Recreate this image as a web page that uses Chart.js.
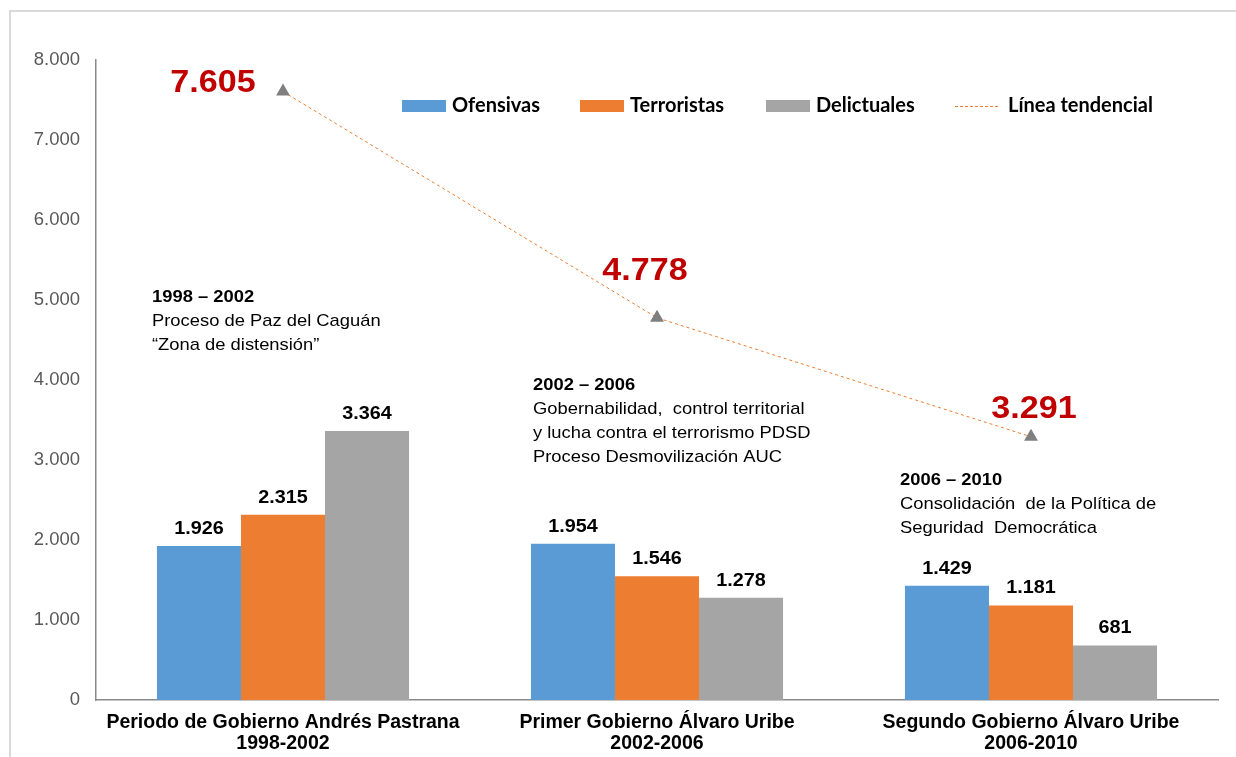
<!DOCTYPE html>
<html lang="es">
<head>
<meta charset="utf-8">
<title>Acciones por periodo de gobierno</title>
<script src="https://cdn.jsdelivr.net/npm/chart.js@4/dist/chart.umd.min.js"></script>
<style>
    html, body { margin: 0; padding: 0; background: #ffffff; }
    #grafico-wrap { position: relative; width: 1236px; height: 757px; }
</style>
</head>
<body>
<div id="grafico-wrap"><canvas id="grafico-acciones"></canvas></div>
<script>
// =====================================================
// DATOS
// =====================================================

const periodos = [
    ['Periodo de Gobierno Andrés Pastrana', '1998-2002'],
    ['Primer Gobierno Álvaro Uribe', '2002-2006'],
    ['Segundo Gobierno Álvaro Uribe', '2006-2010']
];
const ofensivas = [1926, 1954, 1429];
const terroristas = [2315, 1546, 1181];
const delictuales = [3364, 1278, 681];
const totales = [7605, 4778, 3291];
const ticksEje = [0, 1000, 2000, 3000, 4000, 5000, 6000, 7000, 8000];

const notasPeriodo = [
    ['1998 – 2002', 'Proceso de Paz del Caguán', '“Zona de distensión”'],
    ['2002 – 2006', 'Gobernabilidad,  control territorial', 'y lucha contra el terrorismo PDSD', 'Proceso Desmovilización AUC'],
    ['2006 – 2010', 'Consolidación  de la Política de', 'Seguridad  Democrática']
];

// =====================================================
// CONFIGURACIÓN
// =====================================================

const FUENTE = "'Liberation Sans', Arial, sans-serif";
const COLORES = {
    ofensivas: '#5B9BD5',
    terroristas: '#ED7D31',
    delictuales: '#A5A5A5',
    tendencia: '#ED7D31',
    marcador: '#7F7F7F',
    total: '#C00000',
    eje: '#898989',
    ticks: '#595959',
    marco: '#D9D9D9'
};

function formatoMiles(v) {
    return String(v).replace(/\B(?=(\d{3})+(?!\d))/g, '.');
}

// texto con un ligero estiramiento horizontal (como en la imagen original)
function textoEstirado(ctx, texto, x, y, escala) {
    ctx.save();
    ctx.translate(x, y);
    ctx.scale(escala, 1);
    ctx.fillText(texto, 0, 0);
    ctx.restore();
}

// =====================================================
// PLUGINS
// =====================================================

const marcoPlugin = {
    id: 'marco',
    beforeDraw(chart) {
        const ctx = chart.ctx;
        ctx.save();
        ctx.strokeStyle = COLORES.marco;
        ctx.lineWidth = 2;
        ctx.beginPath();
        ctx.moveTo(10, chart.height + 5);
        ctx.lineTo(10, 11);
        ctx.lineTo(chart.width + 5, 11);
        ctx.stroke();
        ctx.restore();
    }
};

const etiquetasPlugin = {
    id: 'etiquetas',
    afterDatasetsDraw(chart) {
        const ctx = chart.ctx;
        ctx.save();
        ctx.textAlign = 'center';
        ctx.textBaseline = 'middle';

        // valores sobre las barras
        ctx.fillStyle = '#000000';
        ctx.font = 'bold 18px ' + FUENTE;
        [0, 1, 2].forEach(i => {
            const meta = chart.getDatasetMeta(i);
            meta.data.forEach((barra, j) => {
                const valor = chart.data.datasets[i].data[j];
                textoEstirado(ctx, formatoMiles(valor), barra.x, barra.y - 17, 1.1);
            });
        });

        // totales de la línea tendencial
        const desplazamientos = [[-70, -8], [-12, -46], [3, -27]];
        ctx.fillStyle = COLORES.total;
        ctx.font = 'bold 31px ' + FUENTE;
        const metaLinea = chart.getDatasetMeta(3);
        metaLinea.data.forEach((punto, j) => {
            const d = desplazamientos[j];
            textoEstirado(ctx, formatoMiles(totales[j]), punto.x + d[0], punto.y + d[1], 1.1);
        });

        // notas de cada periodo
        const posicionesNotas = [[152, 297], [533, 385], [900, 480]];
        ctx.textAlign = 'left';
        ctx.fillStyle = '#000000';
        notasPeriodo.forEach((lineas, k) => {
            const p = posicionesNotas[k];
            lineas.forEach((linea, n) => {
                ctx.font = (n === 0 ? 'bold ' : '') + '17px ' + FUENTE;
                textoEstirado(ctx, linea, p[0], p[1] + n * 24, 1.08);
            });
        });
        ctx.restore();
    }
};

const leyendaPlugin = {
    id: 'leyendaPropia',
    afterDraw(chart) {
        const ctx = chart.ctx;
        const inicios = [402, 580, 766, 955];
        const yCentro = 106;
        ctx.save();
        ctx.font = 'bold 20px Lato, ' + FUENTE;
        ctx.textBaseline = 'middle';
        ctx.textAlign = 'left';
        chart.data.datasets.forEach((ds, i) => {
            const x = inicios[i];
            if (ds.type === 'line') {
                ctx.strokeStyle = ds.borderColor;
                ctx.lineWidth = 1;
                ctx.setLineDash([3, 2]);
                ctx.beginPath();
                ctx.moveTo(x, yCentro + 0.5);
                ctx.lineTo(x + 45, yCentro + 0.5);
                ctx.stroke();
                ctx.setLineDash([]);
                ctx.fillStyle = '#000000';
                ctx.fillText(ds.label, x + 53, yCentro);
            } else {
                ctx.fillStyle = ds.backgroundColor;
                ctx.fillRect(x, yCentro - 6, 44, 12);
                ctx.fillStyle = '#000000';
                ctx.fillText(ds.label, x + 50, yCentro);
            }
        });
        ctx.restore();
    }
};

// =====================================================
// GRÁFICO
// =====================================================

function crearGrafico() {
    const ctx = document.getElementById('grafico-acciones');
    if (!ctx) return;

    new Chart(ctx, {
        type: 'bar',
        data: {
            labels: periodos,
            datasets: [
                { label: 'Ofensivas', data: ofensivas, backgroundColor: COLORES.ofensivas, order: 2 },
                { label: 'Terroristas', data: terroristas, backgroundColor: COLORES.terroristas, order: 2 },
                { label: 'Delictuales', data: delictuales, backgroundColor: COLORES.delictuales, order: 2 },
                {
                    type: 'line',
                    label: 'Línea tendencial',
                    data: totales,
                    borderColor: COLORES.tendencia,
                    borderWidth: 1,
                    borderDash: [3, 3],
                    pointStyle: 'triangle',
                    pointRadius: 8,
                    pointBackgroundColor: COLORES.marcador,
                    pointBorderColor: COLORES.marcador,
                    pointBorderWidth: 0,
                    tension: 0,
                    order: 1
                }
            ]
        },
        options: {
            responsive: true,
            maintainAspectRatio: false,
            animation: false,
            datasets: {
                bar: {
                    categoryPercentage: 0.674,
                    barPercentage: 1,
                    borderWidth: 0
                }
            },
            layout: {
                padding: { left: 10, right: 18, top: 60, bottom: 0 }
            },
            plugins: {
                legend: { display: false },
                tooltip: { enabled: false }
            },
            scales: {
                x: {
                    grid: { display: false, drawTicks: false },
                    border: { color: COLORES.eje, width: 1.5 },
                    ticks: {
                        color: '#000000',
                        padding: 12,
                        maxRotation: 0,
                        font: { family: FUENTE, size: 19.5, weight: 'bold', lineHeight: 1.08 }
                    },
                    afterFit(escala) { escala.height = 57; }
                },
                y: {
                    min: 0,
                    max: 8000,
                    grid: { display: false, drawTicks: false },
                    border: { color: COLORES.eje, width: 1.5 },
                    afterBuildTicks(escala) {
                        escala.ticks = ticksEje.map(v => ({ value: v }));
                    },
                    ticks: {
                        color: COLORES.ticks,
                        padding: 16,
                        font: { family: FUENTE, size: 18.5 },
                        callback: v => formatoMiles(v)
                    },
                    afterFit(escala) { escala.width = 86; }
                }
            }
        },
        plugins: [marcoPlugin, etiquetasPlugin, leyendaPlugin]
    });
}

crearGrafico();
</script>
</body>
</html>
